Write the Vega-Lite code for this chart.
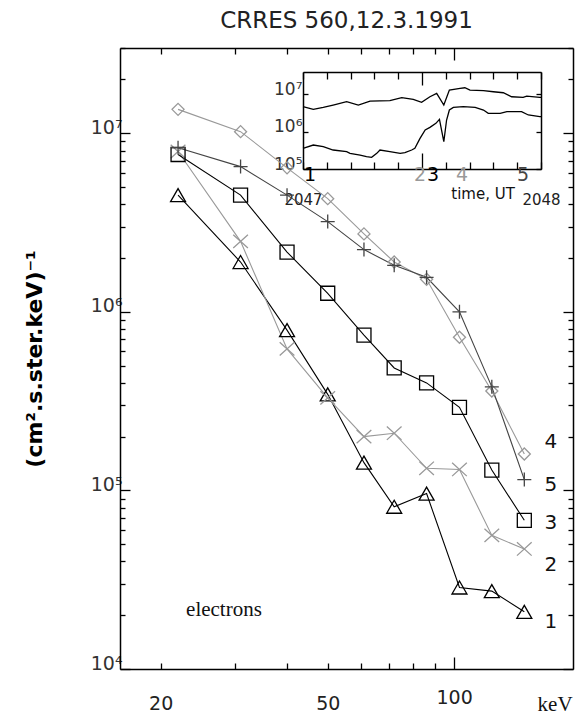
{
  "$schema": "https://vega.github.io/schema/vega-lite/v6.json",
  "width": 453,
  "height": 621,
  "autosize": {"type": "none"},
  "padding": {"left": 120, "top": 48, "right": 8, "bottom": 50},
  "background": "white",
  "config": {
    "view": {"stroke": null},
    "axis": {"grid": false, "labelOverlap": false, "labelFlush": false}
  },
  "title": {
    "text": "CRRES 560,12.3.1991",
    "font": "DejaVu Sans",
    "fontSize": 23,
    "fontWeight": "normal",
    "color": "#222222",
    "anchor": "middle",
    "offset": 0
  },
  "datasets": {
    "spectra": [
      {"s": "1", "E": 22, "v": 4500000}, {"s": "1", "E": 31, "v": 1900000}, {"s": "1", "E": 40, "v": 790000},
      {"s": "1", "E": 50, "v": 345000}, {"s": "1", "E": 61, "v": 143000}, {"s": "1", "E": 72, "v": 81000},
      {"s": "1", "E": 86, "v": 96000}, {"s": "1", "E": 103, "v": 28600}, {"s": "1", "E": 123, "v": 27300},
      {"s": "1", "E": 147, "v": 20900},
      {"s": "2", "E": 22, "v": 7900000}, {"s": "2", "E": 31, "v": 2480000}, {"s": "2", "E": 40, "v": 620000},
      {"s": "2", "E": 50, "v": 330000}, {"s": "2", "E": 61, "v": 200000}, {"s": "2", "E": 72, "v": 209000},
      {"s": "2", "E": 86, "v": 133000}, {"s": "2", "E": 103, "v": 131000}, {"s": "2", "E": 123, "v": 56000},
      {"s": "2", "E": 147, "v": 47000},
      {"s": "3", "E": 22, "v": 7600000}, {"s": "3", "E": 31, "v": 4500000}, {"s": "3", "E": 40, "v": 2160000},
      {"s": "3", "E": 50, "v": 1270000}, {"s": "3", "E": 61, "v": 740000}, {"s": "3", "E": 72, "v": 485000},
      {"s": "3", "E": 86, "v": 400000}, {"s": "3", "E": 103, "v": 292000}, {"s": "3", "E": 123, "v": 130000},
      {"s": "3", "E": 147, "v": 68000},
      {"s": "4", "E": 22, "v": 13600000}, {"s": "4", "E": 31, "v": 10200000}, {"s": "4", "E": 40, "v": 6400000},
      {"s": "4", "E": 50, "v": 4300000}, {"s": "4", "E": 61, "v": 2730000}, {"s": "4", "E": 72, "v": 1900000},
      {"s": "4", "E": 86, "v": 1520000}, {"s": "4", "E": 103, "v": 720000}, {"s": "4", "E": 123, "v": 360000},
      {"s": "4", "E": 147, "v": 160000},
      {"s": "5", "E": 22, "v": 8300000}, {"s": "5", "E": 31, "v": 6500000}, {"s": "5", "E": 40, "v": 4500000},
      {"s": "5", "E": 50, "v": 3200000}, {"s": "5", "E": 61, "v": 2230000}, {"s": "5", "E": 72, "v": 1820000},
      {"s": "5", "E": 86, "v": 1560000}, {"s": "5", "E": 103, "v": 1000000}, {"s": "5", "E": 123, "v": 380000},
      {"s": "5", "E": 147, "v": 115000}
    ],
    "seriesLabels": [
      {"s": "4", "E": 170, "v": 187600},
      {"s": "5", "E": 170, "v": 107000},
      {"s": "3", "E": 170, "v": 65500},
      {"s": "2", "E": 170, "v": 38300},
      {"s": "1", "E": 170, "v": 18400}
    ],
    "notes": [
      {"note": "electrons", "E": 28.3, "v": 21400},
      {"note": "keV", "E": 174, "v": 6280}
    ],
    "inset": [
      {"c": "a", "t": 0, "v": 4690000}, {"c": "a", "t": 2.6, "v": 3980000}, {"c": "a", "t": 5.1, "v": 4510000},
      {"c": "a", "t": 7.6, "v": 5200000}, {"c": "a", "t": 11.0, "v": 6380000}, {"c": "a", "t": 13.95, "v": 5200000},
      {"c": "a", "t": 16.9, "v": 6650000}, {"c": "a", "t": 21.9, "v": 6790000}, {"c": "a", "t": 24.9, "v": 8170000},
      {"c": "a", "t": 27.8, "v": 7380000}, {"c": "a", "t": 29.9, "v": 6130000}, {"c": "a", "t": 32.0, "v": 8680000},
      {"c": "a", "t": 33.7, "v": 10700000}, {"c": "a", "t": 35.5, "v": 5200000}, {"c": "a", "t": 36.9, "v": 13100000},
      {"c": "a", "t": 39.6, "v": 14600000}, {"c": "a", "t": 40.8, "v": 15100000}, {"c": "a", "t": 42.1, "v": 13100000},
      {"c": "a", "t": 45.5, "v": 12600000}, {"c": "a", "t": 48.0, "v": 11800000}, {"c": "a", "t": 50.5, "v": 11100000},
      {"c": "a", "t": 52.6, "v": 8680000}, {"c": "a", "t": 55.5, "v": 8340000}, {"c": "a", "t": 56.4, "v": 9060000},
      {"c": "a", "t": 59.7, "v": 8340000}, {"c": "a", "t": 60, "v": 8340000},
      {"c": "b", "t": 0, "v": 358000}, {"c": "b", "t": 2.6, "v": 440000}, {"c": "b", "t": 5.1, "v": 397000},
      {"c": "b", "t": 7.6, "v": 323000}, {"c": "b", "t": 11.0, "v": 291000}, {"c": "b", "t": 11.85, "v": 263000},
      {"c": "b", "t": 14.4, "v": 237000}, {"c": "b", "t": 16.0, "v": 214000}, {"c": "b", "t": 17.3, "v": 206000},
      {"c": "b", "t": 18.6, "v": 263000}, {"c": "b", "t": 19.4, "v": 323000}, {"c": "b", "t": 21.9, "v": 291000},
      {"c": "b", "t": 24.5, "v": 263000}, {"c": "b", "t": 25.7, "v": 274000}, {"c": "b", "t": 27.4, "v": 323000},
      {"c": "b", "t": 28.2, "v": 358000}, {"c": "b", "t": 29.5, "v": 664000}, {"c": "b", "t": 30.8, "v": 1110000},
      {"c": "b", "t": 32.0, "v": 1310000}, {"c": "b", "t": 33.5, "v": 1680000}, {"c": "b", "t": 34.4, "v": 2150000},
      {"c": "b", "t": 35.5, "v": 541000}, {"c": "b", "t": 36.2, "v": 2060000}, {"c": "b", "t": 36.9, "v": 3820000},
      {"c": "b", "t": 37.9, "v": 4500000}, {"c": "b", "t": 40.4, "v": 4690000}, {"c": "b", "t": 43.4, "v": 4500000},
      {"c": "b", "t": 45.5, "v": 3820000}, {"c": "b", "t": 46.7, "v": 3110000}, {"c": "b", "t": 49.7, "v": 3110000},
      {"c": "b", "t": 51.4, "v": 3440000}, {"c": "b", "t": 55.1, "v": 3440000}, {"c": "b", "t": 56.8, "v": 2810000},
      {"c": "b", "t": 59.7, "v": 2530000}, {"c": "b", "t": 60, "v": 2530000}
    ],
    "insetLabels": [
      {"s": "1", "t": 1.8, "v": 69000},
      {"s": "2", "t": 29.5, "v": 69000},
      {"s": "3", "t": 32.8, "v": 69000},
      {"s": "4", "t": 40.1, "v": 69000},
      {"s": "5", "t": 55.5, "v": 69000}
    ],
    "insetNotes": [
      {"note": "time, UT", "t": 45.4, "v": 21400}
    ]
  },
  "layer": [
    {
      "data": {"name": "spectra"},
      "mark": {"type": "line", "strokeWidth": 1.1},
      "encoding": {
        "x": {
          "field": "E", "type": "quantitative",
          "scale": {"type": "log", "domain": [16, 192], "nice": false},
          "axis": {
            "orient": "bottom",
            "values": [20, 30, 40, 50, 60, 70, 80, 90, 100],
            "tickSize": {"condition": {"test": "datum.value === 100", "value": -12}, "value": -6},
            "tickColor": "#000000", "tickWidth": 1.3,
            "domainColor": "#000000", "domainWidth": 1.5,
            "labelExpr": "datum.value === 20 || datum.value === 50 || datum.value === 100 ? format(datum.value, 'd') : ''",
            "labelFont": "DejaVu Sans", "labelFontSize": 19, "labelColor": "#222222",
            "labelPadding": 31, "title": null
          }
        },
        "y": {
          "field": "v", "type": "quantitative",
          "scale": {"type": "log", "domain": [10000, 30000000], "nice": false},
          "axis": {
            "orient": "left",
            "values": [10000, 20000, 30000, 40000, 50000, 60000, 70000, 80000, 90000,
                       100000, 200000, 300000, 400000, 500000, 600000, 700000, 800000, 900000,
                       1000000, 2000000, 3000000, 4000000, 5000000, 6000000, 7000000, 8000000, 9000000,
                       10000000, 20000000, 30000000],
            "tickSize": {"condition": {"test": "datum.value === 10000 || datum.value === 100000 || datum.value === 1000000 || datum.value === 10000000", "value": -10}, "value": -5},
            "tickColor": "#000000", "tickWidth": 1.3,
            "domainColor": "#000000", "domainWidth": 1.5,
            "labelExpr": "datum.value === 10000 ? '10⁴' : datum.value === 100000 ? '10⁵' : datum.value === 1000000 ? '10⁶' : datum.value === 10000000 ? '10⁷' : ''",
            "labelFont": "DejaVu Sans", "labelFontSize": 19, "labelColor": "#333333",
            "labelBaseline": "alphabetic", "labelAlign": "right", "labelPadding": 8,
            "title": "(cm².s.ster.keV)⁻¹",
            "titleFont": "DejaVu Sans", "titleFontWeight": "bold", "titleFontSize": 22,
            "titleColor": "#000000", "titlePadding": 44
          }
        },
        "color": {
          "field": "s", "type": "nominal",
          "scale": {"domain": ["1", "2", "3", "4", "5"], "range": ["#000000", "#999999", "#000000", "#999999", "#444444"]},
          "legend": null
        }
      }
    },
    {
      "data": {"name": "spectra"},
      "mark": {"type": "point", "filled": false, "strokeWidth": 1.3, "opacity": 1, "size": 196},
      "encoding": {
        "x": {
          "field": "E", "type": "quantitative",
          "scale": {"type": "log", "domain": [16, 192], "nice": false},
          "axis": {
            "orient": "top",
            "values": [20, 30, 40, 50, 60, 70, 80, 90, 100],
            "tickSize": {"condition": {"test": "datum.value === 100", "value": -12}, "value": -6},
            "tickColor": "#000000", "tickWidth": 1.3,
            "domainColor": "#000000", "domainWidth": 1.5,
            "labels": false, "title": null
          }
        },
        "y": {
          "field": "v", "type": "quantitative",
          "scale": {"type": "log", "domain": [10000, 30000000], "nice": false},
          "axis": {
            "orient": "right",
            "values": [10000, 20000, 30000, 40000, 50000, 60000, 70000, 80000, 90000,
                       100000, 200000, 300000, 400000, 500000, 600000, 700000, 800000, 900000,
                       1000000, 2000000, 3000000, 4000000, 5000000, 6000000, 7000000, 8000000, 9000000,
                       10000000, 20000000, 30000000],
            "tickSize": {"condition": {"test": "datum.value === 10000 || datum.value === 100000 || datum.value === 1000000 || datum.value === 10000000", "value": -10}, "value": -5},
            "tickColor": "#000000", "tickWidth": 1.3,
            "domainColor": "#000000", "domainWidth": 1.5,
            "labels": false, "title": null
          }
        },
        "color": {
          "field": "s", "type": "nominal",
          "scale": {"domain": ["1", "2", "3", "4", "5"], "range": ["#000000", "#999999", "#000000", "#999999", "#444444"]},
          "legend": null
        },
        "shape": {
          "field": "s", "type": "nominal",
          "scale": {
            "domain": ["1", "2", "3", "4", "5"],
            "range": [
              "M0,-0.93L1.07,0.93L-1.07,0.93Z",
              "M-1.05,-0.95L1.05,0.95M-1.05,0.95L1.05,-0.95",
              "M-1,-1L1,-1L1,1L-1,1Z",
              "M0,-0.86L0.86,0L0,0.86L-0.86,0Z",
              "M-1,0L1,0M0,-1L0,1"
            ]
          },
          "legend": null
        }
      }
    },
    {
      "data": {"name": "seriesLabels"},
      "mark": {"type": "text", "font": "DejaVu Sans", "fontSize": 20, "color": "#111111", "align": "center", "baseline": "middle"},
      "encoding": {
        "x": {"field": "E", "type": "quantitative", "scale": {"type": "log", "domain": [16, 192], "nice": false}, "axis": null},
        "y": {"field": "v", "type": "quantitative", "scale": {"type": "log", "domain": [10000, 30000000], "nice": false}, "axis": null},
        "text": {"field": "s"}
      }
    },
    {
      "data": {"name": "notes"},
      "mark": {"type": "text", "font": "Liberation Serif", "fontSize": 21, "color": "#111111", "align": "center", "baseline": "middle"},
      "encoding": {
        "x": {"field": "E", "type": "quantitative", "scale": {"type": "log", "domain": [16, 192], "nice": false}, "axis": null},
        "y": {"field": "v", "type": "quantitative", "scale": {"type": "log", "domain": [10000, 30000000], "nice": false}, "axis": null},
        "text": {"field": "note"}
      }
    },
    {
      "data": {"name": "inset"},
      "mark": {"type": "line", "strokeWidth": 1.3, "color": "#000000"},
      "encoding": {
        "x": {
          "field": "t", "type": "quantitative",
          "scale": {"type": "linear", "domain": [0, 60], "range": [183, 421], "nice": false, "zero": false},
          "axis": {
            "orient": "bottom", "offset": -500,
            "values": [0, 6, 12, 18, 24, 30, 36, 42, 48, 54, 60],
            "tickSize": {"condition": {"test": "datum.value === 30", "value": -16}, "value": -7},
            "tickColor": "#000000", "tickWidth": 1.3,
            "domainColor": "#000000", "domainWidth": 1.5,
            "labelExpr": "datum.value === 0 ? '2047' : datum.value === 60 ? '2048' : ''",
            "labelFont": "DejaVu Sans", "labelFontSize": 15, "labelColor": "#222222",
            "labelPadding": 30, "title": null
          }
        },
        "y": {
          "field": "v", "type": "quantitative",
          "scale": {"type": "log", "domain": [100000, 40000000], "range": [121, 24], "nice": false},
          "axis": {
            "orient": "left", "offset": -183,
            "values": [100000, 1000000, 10000000],
            "tickSize": -5,
            "tickColor": "#000000", "tickWidth": 1.3,
            "domainColor": "#000000", "domainWidth": 1.5,
            "labelExpr": "datum.value === 100000 ? '10⁵' : datum.value === 1000000 ? '10⁶' : '10⁷'",
            "labelFont": "DejaVu Sans", "labelFontSize": 17, "labelColor": "#333333",
            "labelBaseline": "alphabetic", "labelAlign": "right", "labelPadding": 6,
            "title": null
          }
        },
        "detail": {"field": "c"}
      }
    },
    {
      "data": {"name": "insetLabels"},
      "mark": {"type": "text", "font": "DejaVu Sans", "fontSize": 19, "align": "center", "baseline": "middle"},
      "encoding": {
        "x": {
          "field": "t", "type": "quantitative",
          "scale": {"type": "linear", "domain": [0, 60], "range": [183, 421], "nice": false, "zero": false},
          "axis": {
            "orient": "top", "offset": -24,
            "values": [0, 6, 12, 18, 24, 30, 36, 42, 48, 54, 60],
            "tickSize": {"condition": {"test": "datum.value === 30", "value": -13}, "value": -7},
            "tickColor": "#000000", "tickWidth": 1.3,
            "domainColor": "#000000", "domainWidth": 1.5,
            "labels": false, "title": null
          }
        },
        "y": {
          "field": "v", "type": "quantitative",
          "scale": {"type": "log", "domain": [100000, 40000000], "range": [121, 24], "nice": false},
          "axis": {
            "orient": "right", "offset": -32,
            "values": [100000, 1000000, 10000000],
            "tickSize": -5,
            "tickColor": "#000000", "tickWidth": 1.3,
            "domainColor": "#000000", "domainWidth": 1.5,
            "labels": false, "title": null
          }
        },
        "text": {"field": "s"},
        "color": {
          "field": "s", "type": "nominal",
          "scale": {"domain": ["1", "2", "3", "4", "5"], "range": ["#000000", "#999999", "#000000", "#999999", "#444444"]},
          "legend": null
        }
      }
    },
    {
      "data": {"name": "insetNotes"},
      "mark": {"type": "text", "font": "DejaVu Sans", "fontSize": 15, "color": "#111111", "align": "center", "baseline": "middle"},
      "encoding": {
        "x": {"field": "t", "type": "quantitative", "scale": {"type": "linear", "domain": [0, 60], "range": [183, 421], "nice": false, "zero": false}, "axis": null},
        "y": {"field": "v", "type": "quantitative", "scale": {"type": "log", "domain": [100000, 40000000], "range": [121, 24], "nice": false}, "axis": null},
        "text": {"field": "note"}
      }
    }
  ],
  "resolve": {
    "scale": {"x": "independent", "y": "independent"},
    "axis": {"x": "independent", "y": "independent"}
  }
}
